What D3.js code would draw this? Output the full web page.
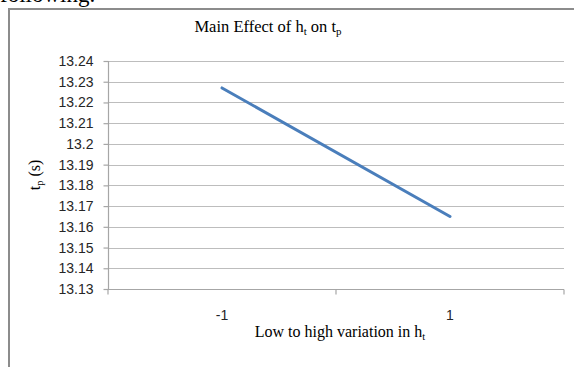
<!DOCTYPE html>
<html>
<head>
<meta charset="utf-8">
<script src="https://cdn.jsdelivr.net/npm/d3@7"></script>
<style>
  html, body { margin: 0; padding: 0; background: #fff; }
  svg { display: block; }
</style>
</head>
<body>
<svg id="chart" width="574" height="367"></svg>
<script>
// Main effect data: low (-1) and high (1) levels of h_t
const categories = ["-1", "1"];
const tpValues = [13.227, 13.165];
const yTicks = [13.13, 13.14, 13.15, 13.16, 13.17, 13.18, 13.19, 13.2, 13.21, 13.22, 13.23, 13.24];

const svg = d3.select("#chart");
const W = 574, H = 367;
const plot = { left: 108, right: 564, top: 61, bottom: 289 };

// Trailing text of the surrounding page, clipped at the top edge
svg.append("text")
  .attr("x", 0).attr("y", 2)
  .attr("font-family", "Liberation Serif, serif")
  .attr("font-size", 23)
  .attr("fill", "#000")
  .text("following.");

// Chart frame (top and left edges)
svg.append("path")
  .attr("d", `M9,${H} V9 H${W}`)
  .attr("fill", "none")
  .attr("stroke", "#8c8c8c")
  .attr("stroke-width", 2);

const x = d3.scaleBand().domain(categories).range([plot.left, plot.right]);
const y = d3.scaleLinear().domain([13.13, 13.24]).range([plot.bottom, plot.top]);

// Horizontal gridlines
svg.append("g")
  .selectAll("line")
  .data(yTicks.slice(1))
  .join("line")
  .attr("x1", plot.left).attr("x2", plot.right)
  .attr("y1", d => Math.round(y(d)) + 0.5).attr("y2", d => Math.round(y(d)) + 0.5)
  .attr("stroke", "#bdbdbd").attr("stroke-width", 1.2);

// Y axis
const yAxis = svg.append("g")
  .attr("transform", `translate(${plot.left + 0.5},0)`)
  .call(d3.axisLeft(y).tickValues(yTicks).tickSize(5).tickPadding(10)
    .tickFormat(d => d3.format("")(+d.toFixed(2))));
yAxis.selectAll("line, path").attr("stroke", "#a6a6a6").attr("stroke-width", 1.2);
yAxis.select("path").attr("d", `M0,${plot.top} V${plot.bottom}`);
yAxis.selectAll("text")
  .attr("font-family", "Liberation Sans, Arial, sans-serif")
  .attr("font-size", 14).attr("fill", "#262626");

// X axis (category boundaries carry the tick marks)
const xAxisG = svg.append("g")
  .attr("transform", `translate(0,${Math.round(plot.bottom) + 0.5})`);
xAxisG.append("line")
  .attr("x1", plot.left).attr("x2", plot.right)
  .attr("stroke", "#a6a6a6").attr("stroke-width", 1.2);
const boundaries = [plot.left, x(categories[1]), plot.right];
xAxisG.selectAll(".bt")
  .data(boundaries)
  .join("line")
  .attr("class", "bt")
  .attr("x1", d => d).attr("x2", d => d)
  .attr("y1", 0).attr("y2", 5)
  .attr("stroke", "#a6a6a6").attr("stroke-width", 1.2);
xAxisG.selectAll(".lbl")
  .data(categories)
  .join("text")
  .attr("class", "lbl")
  .attr("x", d => x(d) + x.bandwidth() / 2)
  .attr("y", 30)
  .attr("text-anchor", "middle")
  .attr("font-family", "Liberation Sans, Arial, sans-serif")
  .attr("font-size", 14).attr("fill", "#262626")
  .text(d => d);

// Main effect line
const line = d3.line()
  .x((d, i) => x(categories[i]) + x.bandwidth() / 2)
  .y(d => y(d));
svg.append("path")
  .datum(tpValues)
  .attr("d", line)
  .attr("fill", "none")
  .attr("stroke", "#4a7ebb")
  .attr("stroke-width", 3)
  .attr("stroke-linecap", "round");

// Title
const title = svg.append("text")
  .attr("x", 268).attr("y", 32)
  .attr("text-anchor", "middle")
  .attr("font-family", "Liberation Serif, DejaVu Serif, serif")
  .attr("font-size", 16.5).attr("fill", "#000");
title.append("tspan").text("Main Effect of h");
title.append("tspan").attr("font-size", 11).attr("dy", 3).text("t");
title.append("tspan").attr("dy", -3).text(" on t");
title.append("tspan").attr("font-size", 11).attr("dy", 3).text("p");

// X axis title
const xt = svg.append("text")
  .attr("x", 340).attr("y", 337)
  .attr("text-anchor", "middle")
  .attr("font-family", "Liberation Serif, DejaVu Serif, serif")
  .attr("font-size", 16).attr("fill", "#000");
xt.append("tspan").text("Low to high variation in h");
xt.append("tspan").attr("font-size", 10.5).attr("dy", 3).text("t");

// Y axis title
const yt = svg.append("text")
  .attr("transform", `translate(40,${(plot.top + plot.bottom) / 2}) rotate(-90)`)
  .attr("text-anchor", "middle")
  .attr("font-family", "Liberation Serif, DejaVu Serif, serif")
  .attr("font-size", 16).attr("fill", "#000");
yt.append("tspan").text("t");
yt.append("tspan").attr("font-size", 10.5).attr("dy", 3).text("p");
yt.append("tspan").attr("dy", -3).text(" (s)");
</script>
</body>
</html>
